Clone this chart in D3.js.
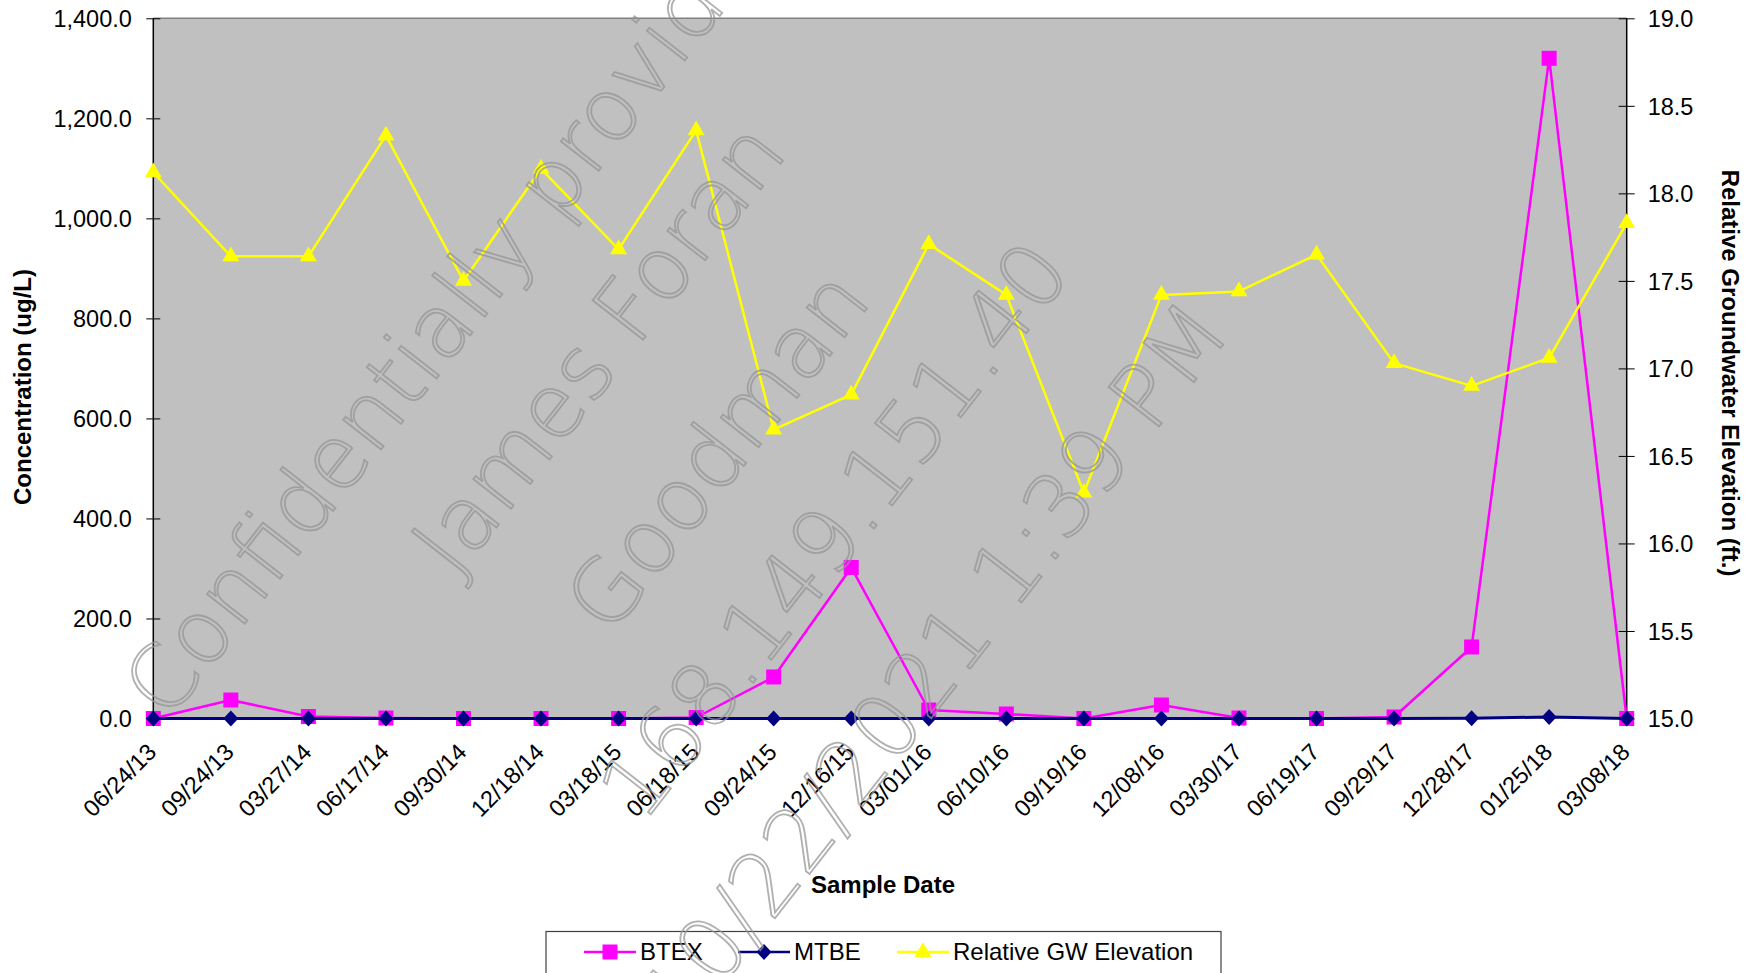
<!DOCTYPE html>
<meta charset="utf-8">
<head>
  <title>BTEX / MTBE / GW Elevation</title>
</head>

<style>
body {
  margin: 0;
  background: #fff;
  font-family: "Liberation Sans", Arial, sans-serif;
}
svg text { fill: #000; }
</style>

<body>
  <div id="content">
    <svg width="1746" height="973"></svg>
  </div>

  <script src="https://cdnjs.cloudflare.com/ajax/libs/d3/7.8.5/d3.min.js"></script>

  <script>
// DATA
var dates = ['06/24/13', '09/24/13', '03/27/14', '06/17/14', '09/30/14', '12/18/14',
  '03/18/15', '06/18/15', '09/24/15', '12/16/15', '03/01/16', '06/10/16', '09/19/16',
  '12/08/16', '03/30/17', '06/19/17', '09/29/17', '12/28/17', '01/25/18', '03/08/18'];

var btex = [0, 37, 4, 1, 0, 0, 0, 2, 83, 302, 17, 9, 0, 27, 1, 0, 3, 143, 1320, 0];
var mtbe = [0, 0, 0, 0, 0, 0, 0, 0, 0, 0, 0, 0, 0, 0, 0, 0, 0, 0.5, 3, 0];
var gw = [18.12, 17.64, 17.64, 18.33, 17.50, 18.14, 17.68, 18.36, 16.65, 16.85,
  17.71, 17.42, 16.29, 17.42, 17.44, 17.65, 17.03, 16.90, 17.06, 17.83];

var leftTicks = [0, 200, 400, 600, 800, 1000, 1200, 1400];
var rightTicks = [15, 15.5, 16, 16.5, 17, 17.5, 18, 18.5, 19];

var seriesNames = ['BTEX', 'MTBE', 'Relative GW Elevation'];

var watermark = ['Confidentially provided to', 'James Foran', 'Goodman',
  '168.149.151.40', '10/22/2021 1:39 PM'];

// LAYOUT
var plotLeft = 153.3, plotRight = 1626.7, plotTop = 18.3, plotBottom = 718.5;

var svg = d3.select('#content svg');

var x = d3.scalePoint().domain(dates).range([plotLeft, plotRight]);
var yL = d3.scaleLinear().domain([0, 1400]).range([plotBottom, plotTop]);
var yR = d3.scaleLinear().domain([15, 19]).range([plotBottom, plotTop]);

// plot area
svg.append('rect')
  .attr('x', plotLeft).attr('y', plotTop)
  .attr('width', plotRight - plotLeft).attr('height', plotBottom - plotTop)
  .attr('fill', '#c0c0c0');
svg.append('line')
  .attr('x1', plotLeft).attr('x2', plotRight)
  .attr('y1', plotTop).attr('y2', plotTop)
  .attr('stroke', '#808080').attr('stroke-width', 1.5);

// left axis
var gL = svg.append('g')
  .attr('transform', 'translate(' + plotLeft + ',0)')
  .call(d3.axisLeft(yL).tickValues(leftTicks).tickFormat(d3.format(',.1f')).tickSize(7));
gL.selectAll('.tick line').attr('x1', 7).attr('x2', -7).attr('stroke', '#000');
gL.select('.domain').attr('stroke', '#000').attr('stroke-width', 1.5).attr('d', 'M0,' + plotTop + 'V' + plotBottom);
gL.selectAll('.tick text').attr('x', -21.5).attr('dy', '0.35em')
  .style('font-family', '"Liberation Sans", Arial, sans-serif').style('font-size', '23.5px');

// right axis
var gR = svg.append('g')
  .attr('transform', 'translate(' + plotRight + ',0)')
  .call(d3.axisRight(yR).tickValues(rightTicks).tickFormat(d3.format('.1f')).tickSize(8));
gR.selectAll('.tick line').attr('x1', -8).attr('x2', 8).attr('stroke', '#000');
gR.select('.domain').attr('stroke', '#000').attr('stroke-width', 1.5).attr('d', 'M0,' + plotTop + 'V' + plotBottom);
gR.selectAll('.tick text').attr('x', 21).attr('dy', '0.35em')
  .style('font-family', '"Liberation Sans", Arial, sans-serif').style('font-size', '23.5px');

// x axis labels
var gX = svg.append('g')
  .attr('transform', 'translate(0,' + plotBottom + ')')
  .call(d3.axisBottom(x).tickSize(0));
gX.select('.domain').remove();
gX.selectAll('.tick text')
  .attr('x', 0).attr('y', 0).attr('dy', 0)
  .style('text-anchor', 'end')
  .style('font-family', '"Liberation Sans", Arial, sans-serif').style('font-size', '23.5px')
  .attr('transform', 'translate(4,35) rotate(-45)');

// axis titles
svg.append('text')
  .attr('transform', 'translate(30.5,387) rotate(-90)')
  .attr('text-anchor', 'middle')
  .style('font-weight', 'bold').style('font-size', '24px')
  .text('Concentration (ug/L)');
svg.append('text')
  .attr('transform', 'translate(1722,373) rotate(90)')
  .attr('text-anchor', 'middle')
  .style('font-weight', 'bold').style('font-size', '24px')
  .text('Relative Groundwater Elevation (ft.)');
svg.append('text')
  .attr('x', 883).attr('y', 893)
  .attr('text-anchor', 'middle')
  .style('font-weight', 'bold').style('font-size', '24px')
  .text('Sample Date');

// markers
var squarePath = d3.symbol().type(d3.symbolSquare).size(15 * 15)();
var diamondPath = 'M0,-8L7.5,0L0,8L-7.5,0Z';
var trianglePath = d3.symbol().type(d3.symbolTriangle).size(125)();

function drawSeries(values, yScale, color, width, marker) {
  var pts = dates.map(function(d, i) { return [x(d), yScale(values[i])]; });
  svg.append('path')
    .attr('d', d3.line()(pts))
    .attr('fill', 'none')
    .attr('stroke', color)
    .attr('stroke-width', width)
    .attr('stroke-linejoin', 'round');
  svg.append('g').selectAll('path')
    .data(pts)
    .join('path')
    .attr('d', marker)
    .attr('transform', function(p) { return 'translate(' + p[0] + ',' + p[1] + ')'; })
    .attr('fill', color);
}

drawSeries(btex, yL, '#ff00ff', 2.5, squarePath);
drawSeries(mtbe, yL, '#000080', 3, diamondPath);
drawSeries(gw, yR, '#ffff00', 2.5, trianglePath);

// legend
var legend = svg.append('g');
legend.append('rect')
  .attr('x', 546).attr('y', 931.5)
  .attr('width', 675).attr('height', 70)
  .attr('fill', '#fff').attr('stroke', '#404040').attr('stroke-width', 1.2);

var legendItems = [
  {name: seriesNames[0], color: '#ff00ff', marker: squarePath, x0: 584},
  {name: seriesNames[1], color: '#000080', marker: diamondPath, x0: 738},
  {name: seriesNames[2], color: '#ffff00', marker: trianglePath, x0: 897}
];
legendItems.forEach(function(it) {
  legend.append('line')
    .attr('x1', it.x0).attr('x2', it.x0 + 52)
    .attr('y1', 952).attr('y2', 952)
    .attr('stroke', it.color).attr('stroke-width', 2.5);
  legend.append('path')
    .attr('d', it.marker)
    .attr('transform', 'translate(' + (it.x0 + 26) + ',952)')
    .attr('fill', it.color);
  legend.append('text')
    .attr('x', it.x0 + 56).attr('y', 960)
    .style('font-size', '24px')
    .text(it.name);
});

// watermark (outlined text, drawn on top)
var wmPos = [[-466, 577], [-176, 716], [-127, 873], [-254, 1014], [-394, 1176]];
var wm = svg.append('g').attr('transform', 'rotate(-52)');
wm.selectAll('text')
  .data(watermark)
  .join('text')
  .attr('x', function(d, i) { return wmPos[i][0]; })
  .attr('y', function(d, i) { return wmPos[i][1]; })
  .style('font-family', '"DejaVu Sans", sans-serif')
  .style('font-weight', 200)
  .style('font-size', '88px')
  .style('fill', 'none')
  .style('stroke', 'rgba(149,149,149,0.74)')
  .style('stroke-width', 1.8)
  .text(function(d) { return d; });
  </script>
</body>
</html>
